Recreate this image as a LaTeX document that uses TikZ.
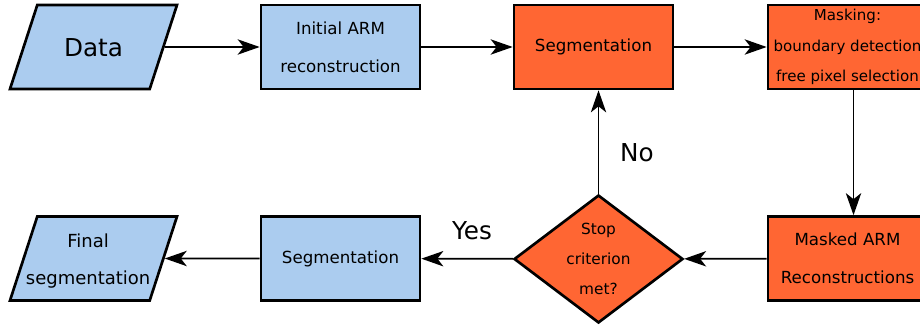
\documentclass[tikz,border=0pt]{standalone}
\usepackage{fontspec}
\setmainfont{DejaVu Sans}
\usetikzlibrary{shapes.geometric,arrows.meta}
\definecolor{armblue}{RGB}{171,204,239}
\definecolor{armorange}{RGB}{255,102,51}
\begin{document}
\begin{tikzpicture}[x=0.75pt, y=-0.75pt, every node/.style={align=center, font=\fontsize{12.5}{28.5}\selectfont}]
        \tikzset{
            io/.style={draw,line width=2pt,fill=armblue,trapezium,trapezium left angle=72,trapezium right angle=108,trapezium stretches body,minimum width=125.25pt,inner sep=0pt},
            proc/.style={draw,line width=2pt,fill=armblue,minimum width=119.25pt,minimum height=63pt,inner sep=0pt},
            hot/.style={proc,fill=armorange},
            test/.style={draw,line width=2pt,fill=armorange,diamond,aspect=1.32,minimum width=126.75pt,minimum height=96pt,inner sep=0pt},
            flow/.style={line width=1.3pt,-{Stealth[length=16.5pt,width=11.5pt,inset=4.5pt]}},
            tag/.style={font=\fontsize{18.5}{22}\selectfont}
        }
        \clip (0,0) rectangle (920,325);
        \node[io,font=\fontsize{18.5}{22}\selectfont,text height=38.25pt,text depth=24.75pt] (data) at (93.5,47) {Data};
        \node[proc] (init) at (340.5,47) {Initial ARM\\reconstruction};
        \node[hot] (seg1) at (593.5,47) {Segmentation};
        \node[hot,font=\fontsize{11.3}{22.9}\selectfont] (mask) at (847.5,47) {Masking:\\boundary detection\\free pixel selection};
        \node[hot] (masked) at (847.5,258.5) {Masked ARM\\Reconstructions};
        \node[test,font=\fontsize{11.5}{22.5}\selectfont] (stop) at (598.5,259) {Stop\\criterion\\met?};
        \node[proc] (seg2) at (340.5,258.5) {Segmentation};
        \node[io,font=\fontsize{13.5}{27.75}\selectfont,text height=51.35pt,text depth=11.65pt] (final) at (93.5,258.5)
            {\makebox[60pt]{Final\kern8pt}\\\makebox[60pt]{segmentation\kern8pt}};
        \node[tag] (yes) at (472,231) {Yes};
        \node[tag] (no) at (637,153) {No};
        \draw[flow] (data) -- (init);
        \draw[flow] (init) -- (seg1);
        \draw[flow] (seg1) -- (mask);
        \draw[flow] ([xshift=4.5pt]mask.south) -- ([xshift=4.5pt]masked.north);
        \draw[flow] (masked) -- (stop);
        \draw[flow] (stop) -- (seg2);
        \draw[flow] (seg2) -- (final);
        \draw[flow] (stop.north) -- (stop.north |- seg1.south);
\end{tikzpicture}
\end{document}
